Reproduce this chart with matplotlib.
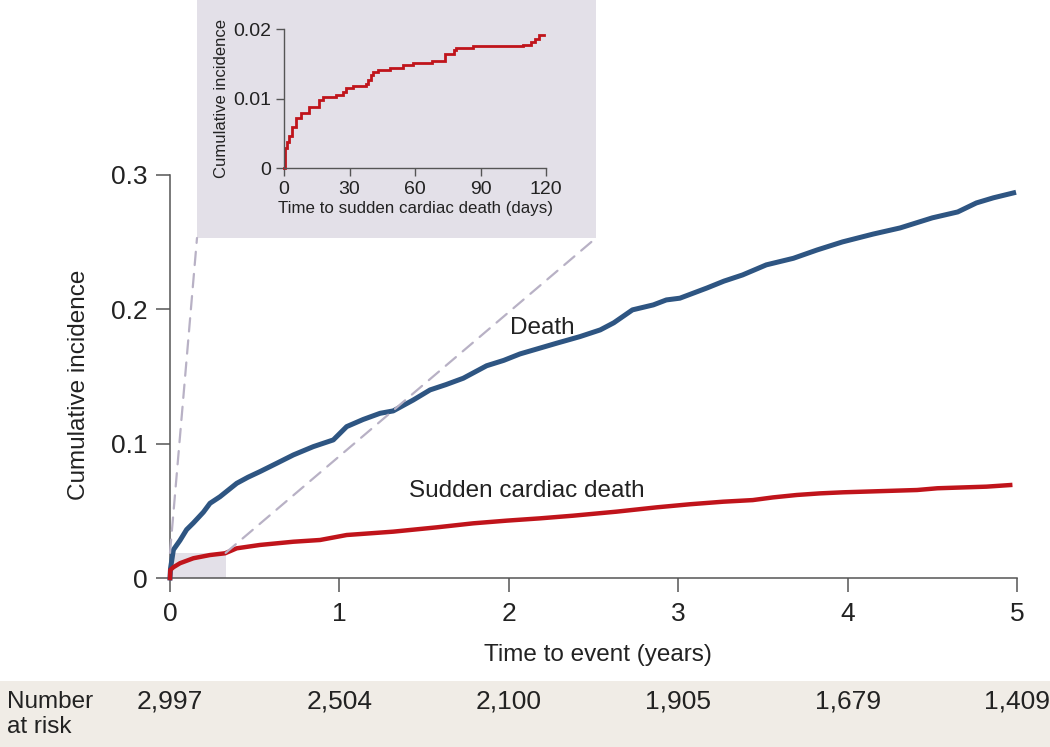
import matplotlib
matplotlib.use("Agg")
import matplotlib.pyplot as plt
from matplotlib.patches import Rectangle, ConnectionPatch
import matplotlib.transforms as mtransforms

plt.rcParams['font.family'] = ['Liberation Sans', 'DejaVu Sans']

# ---- data ----
death_t = [0, 0.003, 0.02, 0.059, 0.098, 0.138, 0.197, 0.236, 0.295, 0.394, 0.46, 0.531,
           0.63, 0.728, 0.846, 0.964, 1.043, 1.14, 1.24, 1.318, 1.436, 1.535, 1.63, 1.731,
           1.869, 1.97, 2.066, 2.18, 2.283, 2.42, 2.54, 2.62, 2.73, 2.853, 2.93, 3.01, 3.17,
           3.27, 3.38, 3.52, 3.68, 3.82, 3.97, 4.15, 4.31, 4.50, 4.65, 4.76, 4.86, 4.98]
death_y = [0, 0.007, 0.021, 0.028, 0.036, 0.041, 0.049, 0.0556, 0.0605, 0.0705, 0.075, 0.0792,
           0.0854, 0.0916, 0.0978, 0.1028, 0.1127, 0.118, 0.1226, 0.1244, 0.1325, 0.140, 0.144,
           0.1487, 0.158, 0.162, 0.1668, 0.171, 0.1748, 0.1797, 0.1847, 0.190, 0.1996, 0.2033,
           0.207, 0.2083, 0.2159, 0.221, 0.2256, 0.2331, 0.238, 0.2442, 0.2502, 0.256, 0.2606,
           0.2681, 0.2725, 0.2792, 0.283, 0.2867]

scd_t = [0, 0.002, 0.02, 0.059, 0.138, 0.236, 0.325, 0.394, 0.531, 0.728, 0.886, 1.043, 1.318,
         1.574, 1.79, 1.988, 2.184, 2.381, 2.637, 2.873, 3.07, 3.266, 3.44, 3.56, 3.70, 3.837,
         3.975, 4.41, 4.53, 4.82, 4.96]
scd_y = [0, 0.006, 0.008, 0.011, 0.0147, 0.0171, 0.0184, 0.0221, 0.0246, 0.027, 0.0283, 0.032,
         0.0345, 0.0377, 0.0407, 0.0427, 0.0444, 0.0464, 0.0494, 0.0526, 0.0549, 0.0568, 0.058,
         0.060, 0.0618, 0.063, 0.0638, 0.0655, 0.0668, 0.068, 0.0692]

inset_days = [0, 0.6, 1.5, 2.3, 3.5, 5.4, 8, 11.3, 16, 18, 24, 26.8, 28.3, 31.7, 37.5, 38.7,
              40, 40.8, 43, 48.5, 54.6, 59, 68, 73.7, 78, 79, 86.7, 109.6, 113, 115, 117, 119]
inset_y = [0, 0.0029, 0.0038, 0.0046, 0.0059, 0.0073, 0.0079, 0.0088, 0.0098, 0.0102, 0.0106,
           0.011, 0.0115, 0.0118, 0.0122, 0.0127, 0.0134, 0.0139, 0.0141, 0.0145, 0.0149, 0.0152,
           0.0155, 0.0165, 0.017, 0.0173, 0.0176, 0.0178, 0.0182, 0.0186, 0.0192, 0.0192]

x_ticks = [0, 1, 2, 3, 4, 5]
y_ticks = [0, 0.1, 0.2, 0.3]
y_ticklabels = ["0", "0.1", "0.2", "0.3"]
inset_xticks = [0, 30, 60, 90, 120]
inset_yticks = [0, 0.01, 0.02]
inset_yticklabels = ["0", "0.01", "0.02"]
at_risk = ["2,997", "2,504", "2,100", "1,905", "1,679", "1,409"]
zoom_days = 120
zoom_top = 0.0187

# ---- styling ----
BLUE = "#2E5582"
RED = "#C0141B"
PANEL = "#E3E0E8"
DASH = "#B8B1C5"
BAND = "#F0ECE6"
SPINE = "#555555"
TXT = "#222222"
FS = 17.5
FS_NUM = 19

W, H = 1050, 747
fig = plt.figure(figsize=(W / 100, H / 100), dpi=100)

def fx(px):
    return px / W

def fy(py):
    return 1 - py / H

# number at risk band
fig.patches.append(Rectangle((0, 0), 1, fy(681), transform=fig.transFigure,
                             facecolor=BAND, edgecolor='none', zorder=0))

# main axes
ax = fig.add_axes([fx(170), fy(578), fx(1017) - fx(170), fy(175) - fy(578)])
ax.set_xlim(0, 5)
ax.set_ylim(0, 0.3)
for s in ['top', 'right']:
    ax.spines[s].set_visible(False)
for s in ['left', 'bottom']:
    ax.spines[s].set_color(SPINE)
    ax.spines[s].set_linewidth(1.1)
ax.set_xticks(x_ticks)
ax.set_xticklabels([str(v) for v in x_ticks])
ax.set_yticks(y_ticks)
ax.set_yticklabels(y_ticklabels)
ax.tick_params(direction='out', length=10, width=1.1, color=SPINE, labelsize=FS_NUM,
               labelcolor=TXT)
ax.tick_params(axis='x', pad=7)
ax.tick_params(axis='y', pad=6)
ax.set_xlabel("Time to event (years)", fontsize=FS, color=TXT)
ax.xaxis.set_label_coords((598 - 170) / 847, (578 - 644) / 403)
ax.set_ylabel("Cumulative incidence", fontsize=FS, color=TXT)
ax.yaxis.set_label_coords((90 - 170) / 847, (578 - 385) / 403)

# zoom region rectangle
ax.add_patch(Rectangle((0, 0), zoom_days / 365.25, zoom_top, facecolor=PANEL,
                       edgecolor='none', zorder=1))

ax.plot(death_t, death_y, color=BLUE, lw=3.6, zorder=3, clip_on=False)
ax.plot(scd_t, scd_y, color=RED, lw=3.2, zorder=4, clip_on=False)

ax.text(2.2, 0.186, "Death", fontsize=FS, color=TXT, ha='center', va='center')
ax.text(1.41, 0.065, "Sudden cardiac death", fontsize=FS, color=TXT, ha='left',
        va='center')

# inset panel
panel = fig.add_axes([fx(197), fy(238), fx(596) - fx(197), fy(0) - fy(238)])
panel.set_facecolor(PANEL)
panel.set_xticks([])
panel.set_yticks([])
for s in panel.spines.values():
    s.set_visible(False)

# dashed connector lines
for xd, px in [(0, 197), (zoom_days / 365.25, 596)]:
    con = ConnectionPatch(xyA=(xd, zoom_top), coordsA=ax.transData,
                          xyB=(fx(px), fy(238)), coordsB=fig.transFigure,
                          color=DASH, lw=1.6, linestyle=(0, (6, 4)), zorder=0.5)
    fig.add_artist(con)

ins = fig.add_axes([fx(284), fy(168.3), fx(546) - fx(284), fy(29.3) - fy(168.3)])
ins.patch.set_alpha(0)
ins.set_xlim(0, 120)
ins.set_ylim(0, 0.02)
for s in ['top', 'right']:
    ins.spines[s].set_visible(False)
for s in ['left', 'bottom']:
    ins.spines[s].set_color(SPINE)
    ins.spines[s].set_linewidth(1.0)
ins.set_xticks(inset_xticks)
ins.set_xticklabels([str(v) for v in inset_xticks])
ins.set_yticks(inset_yticks)
ins.set_yticklabels(inset_yticklabels)
ins.tick_params(direction='out', length=6, width=1.0, color=SPINE, labelsize=14,
                labelcolor=TXT, pad=3)
ins.set_xlabel("Time to sudden cardiac death (days)", fontsize=12.2, color=TXT, labelpad=2)
ins.set_ylabel("Cumulative incidence", fontsize=12, color=TXT, labelpad=3)
ins.plot(inset_days, inset_y, drawstyle='steps-post', color=RED, lw=2.0, clip_on=False,
         solid_joinstyle='miter')

# number at risk
trans = mtransforms.blended_transform_factory(ax.transData, fig.transFigure)
for xv, lab in zip(x_ticks, at_risk):
    fig.text(xv, fy(702), lab, transform=trans, fontsize=FS_NUM, color=TXT,
             ha='center', va='center')
fig.text(fx(7), fy(702), "Number", fontsize=FS, color=TXT, ha='left', va='center')
fig.text(fx(7), fy(727), "at risk", fontsize=FS, color=TXT, ha='left', va='center')

fig.savefig("out.png", dpi=100)
